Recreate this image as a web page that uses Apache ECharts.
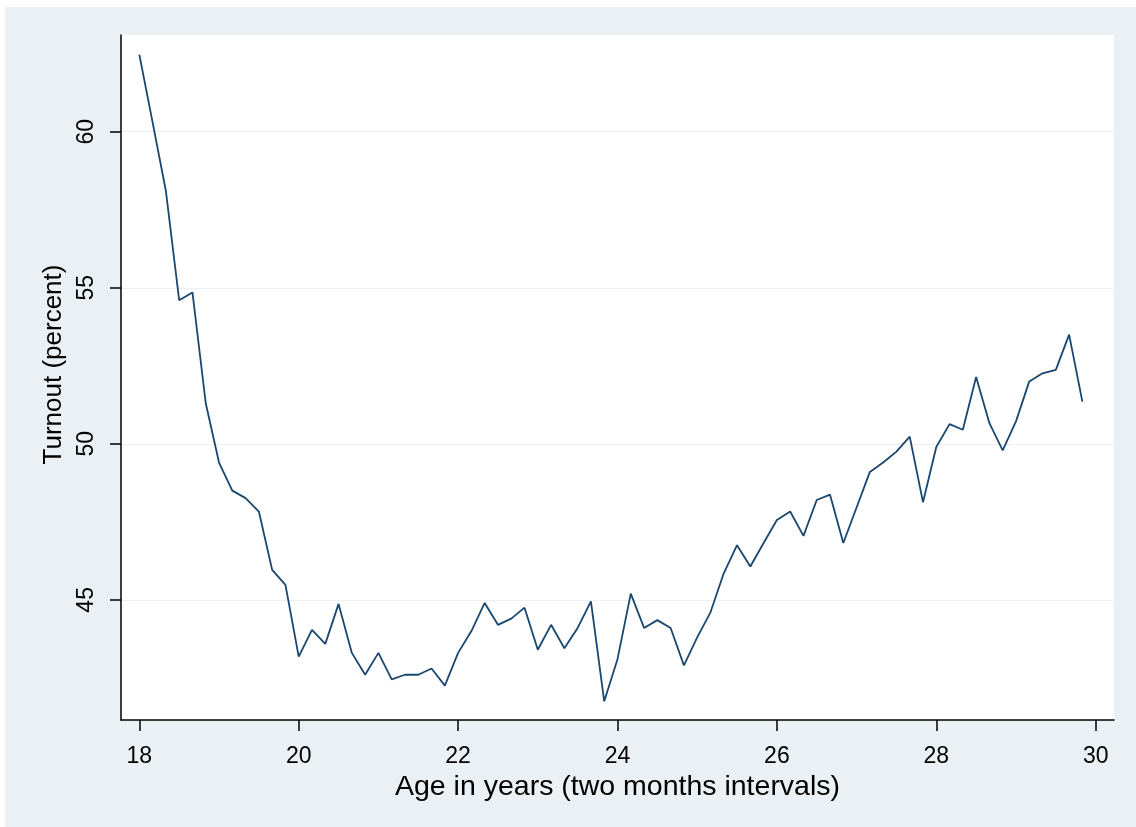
<!DOCTYPE html>
<html>
<head>
<meta charset="utf-8">
<script src="https://cdn.jsdelivr.net/npm/echarts@6/dist/echarts.min.js"></script>
<style>
html,body{margin:0;padding:0;background:#ffffff;width:1136px;height:827px;overflow:hidden;}
#chart{position:absolute;left:5px;top:7px;width:1131px;height:820px;}
</style>
</head>
<body>
<div id="chart"></div>
<script>
// Age in years, two-month steps starting at 18
const ageStartYears = 18;
const stepsPerYear = 6;
// Turnout (percent)
const turnout = [
  62.47, 60.3, 58.1, 54.6, 54.85, 51.3, 49.4, 48.5, 48.26, 47.83,
  45.96, 45.48, 43.18, 44.04, 43.59, 44.87, 43.3, 42.6, 43.3, 42.45,
  42.6, 42.6, 42.8, 42.25, 43.3, 44.0, 44.9, 44.2, 44.4, 44.75,
  43.4, 44.2, 43.45, 44.1, 44.95, 41.75, 43.1, 45.2, 44.1, 44.35,
  44.1, 42.9, 43.8, 44.6, 45.85, 46.75, 46.07, 46.82, 47.56, 47.83,
  47.05, 48.2, 48.37, 46.82, 47.96, 49.1, 49.4, 49.75, 50.23, 48.13,
  49.9, 50.63, 50.45, 52.14, 50.66, 49.79, 50.72, 52.0, 52.26, 52.37,
  53.5, 51.35
];
const xTicks = [18, 20, 22, 24, 26, 28, 30];
const yTicks = [45, 50, 55, 60];

const ages = turnout.map((_, i) => ageStartYears + i / stepsPerYear);
const seriesData = ages.map((a, i) => [a, turnout[i]]);

const chart = echarts.init(document.getElementById('chart'), null, {renderer: 'canvas'});
const fontFamily = '"Liberation Sans", Arial, sans-serif';
chart.setOption({
  backgroundColor: '#eaf0f3',
  animation: false,
  grid: {
    left: 116, right: 22, top: 28, bottom: 107,
    show: true, backgroundColor: '#ffffff', borderWidth: 0
  },
  xAxis: {
    type: 'value',
    min: 17.77, max: 30.23,
    name: 'Age in years (two months intervals)',
    nameLocation: 'middle',
    nameGap: 49,
    nameTextStyle: {fontFamily, fontSize: 28.5, color: '#000'},
    axisLine: {show: true, onZero: false, lineStyle: {color: '#000', width: 1.5}},
    axisTick: {show: true, length: 11, customValues: xTicks, lineStyle: {color: '#000', width: 1.5}},
    axisLabel: {customValues: xTicks, fontFamily, fontSize: 23, color: '#000', margin: 25},
    splitLine: {show: false}
  },
  yAxis: {
    type: 'value',
    min: 41.15, max: 63.1,
    name: 'Turnout (percent)',
    nameLocation: 'middle',
    nameRotate: 90,
    nameGap: 54,
    nameTextStyle: {fontFamily, fontSize: 26, color: '#000', padding: [0, 0, 0, 26]},
    axisLine: {show: true, onZero: false, lineStyle: {color: '#000', width: 1.5}},
    axisTick: {show: true, length: 11, customValues: yTicks, lineStyle: {color: '#000', width: 1.5}},
    axisLabel: {customValues: yTicks, rotate: 90, fontFamily, fontSize: 23, color: '#000', margin: 23},
    splitLine: {show: true, lineStyle: {color: '#eaf0f3', width: 1.2}}
  },
  series: [{
    type: 'line',
    data: seriesData,
    showSymbol: false,
    symbol: 'none',
    lineStyle: {color: '#1a476f', width: 1.8},
    clip: false
  }]
});
</script>
</body>
</html>
